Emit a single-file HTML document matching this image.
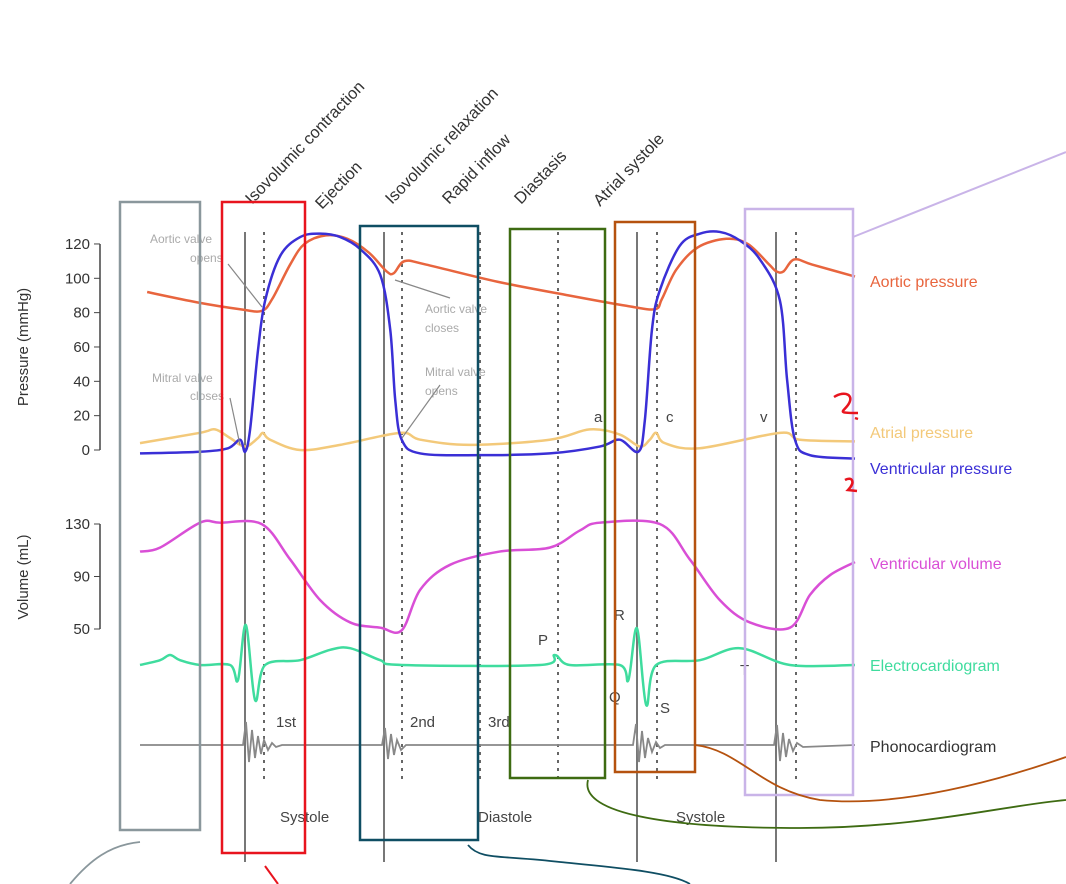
<!DOCTYPE html>
<html><head><meta charset="utf-8"><style>
body{margin:0;background:#fff;width:1066px;height:884px;overflow:hidden;font-family:"Liberation Sans",sans-serif}
svg{position:absolute;left:0;top:0}
</style></head><body>
<svg id="c" width="1066" height="884" font-family="Liberation Sans, sans-serif"></svg>
<script>
// time units 0..100 across the plot, pressure mmHg, volume mL, ecg mV-like
const aorticT=[1,8,14,17,18.5,21,23,26,29,32,34.5,35.5,37,40,50,60,68,72,73,75,78,82,85,88,89,90,91.5,94,100];
const aorticP=[92,86,82,81,88,108,120,125,123,115,104,103,110,108,98,90,84,82,88,105,118,123,120,108,104,104,111,108,101];
const ventT=[0,8.4,12.3,14,14.7,15.4,16.5,17.5,19.6,22.4,25.2,28,30.8,33.6,35,35.7,36.6,39.2,47.6,57.3,64.3,67.1,69.7,70.6,71.6,72.7,75.5,78.3,81.1,83.9,86.7,89.5,90.5,91.6,93.7,100];
const ventP=[-2,-1,1,6,-1,12,58,87,113,124,126,124,117,102,70,29,6,-2,-3,-2,2,6,-1,17,70,93,119,126,127,122,111,87,41,6,-3,-5];
const atrT=[0,8.4,10.5,12.6,14.7,16.5,17.2,18.2,22.4,28,36.4,39.2,46.2,57.3,62.9,67.1,69.9,71.3,72.2,73.4,78.3,89.5,92.3,100];
const atrP=[4,10,12,7,2,7,10,6,0,3,10,6,3,6,12,9,2,6,10,4,1,10,6,5];
const volT=[0,2.8,8.4,11.2,17,21,25.2,29.4,33.6,36.6,39.2,43.4,50.3,57.3,61.5,64.3,72.7,76.9,81.1,85.3,90.9,93.7,96.5,100];
const volV=[109,112,131,131,130,103,72,55,51,49,80,99,109,112,125,131,130,103,72,55,51,76,91,101];
const ecgT=[0,2.8,4.2,5.6,8.4,12.6,13.7,14.8,16.1,17.5,22.4,26.6,29.4,33.6,36.6,55.9,58,60.1,67.1,68.3,69.5,70.8,72.2,78.3,83.9,90.9,100];
const ecgV=[0,0.12,0.25,0.12,0,0,-0.38,1,-0.88,0,0.12,0.38,0.42,0.12,0,0,0.25,0,0,-0.38,0.92,-1,0,0.12,0.42,0,0];
const pTicks=[0,20,40,60,80,100,120];
const vTicks=[50,90,130];
const X=t=>140+t*7.15, YP=p=>450-p*1.717, YV=v=>524-(v-130)*1.3125, YE=e=>665-e*40;
const NS="http://www.w3.org/2000/svg", svg=document.getElementById('c');
function el(tag,a,txt){const e=document.createElementNS(NS,tag);for(const k in a)e.setAttribute(k,a[k]);if(txt!=null)e.textContent=txt;svg.appendChild(e);return e;}
function smooth(xs,ys){let d=`M${xs[0]},${ys[0]}`;for(let i=0;i<xs.length-1;i++){const x0=xs[i-1]??xs[i],y0=ys[i-1]??ys[i],x1=xs[i],y1=ys[i],x2=xs[i+1],y2=ys[i+1],x3=xs[i+2]??x2,y3=ys[i+2]??y2;d+=` C${x1+(x2-x0)/6},${y1+(y2-y0)/6} ${x2-(x3-x1)/6},${y2-(y3-y1)/6} ${x2},${y2}`;}return d;}
// vertical lines
[245,384,637,776].forEach(x=>{const l=el('line',{x1:x,x2:x,y1:232,y2:862,stroke:'#777','stroke-width':2});});
[264,402,480,558,657,796].forEach(x=>{const l=el('line',{x1:x,x2:x,y1:232,y2:782,stroke:'#666','stroke-width':2,'stroke-dasharray':'3,5'});});
// axes
let a=el('path',{d:'M100,244V450M100,524V629',stroke:'#444',fill:'none','stroke-width':1.5});
pTicks.forEach(p=>{el('line',{x1:94,x2:100,y1:YP(p),y2:YP(p),stroke:'#444'});const t=el('text',{x:90,y:YP(p)+5,'text-anchor':'end','font-size':15,fill:'#333'},p);});
vTicks.forEach(v=>{el('line',{x1:94,x2:100,y1:YV(v),y2:YV(v),stroke:'#444'});const t=el('text',{x:90,y:YV(v)+5,'text-anchor':'end','font-size':15,fill:'#333'},v);});
let yt=el('text',{transform:'translate(28,347) rotate(-90)','text-anchor':'middle','font-size':15,fill:'#333'},'Pressure (mmHg)');
yt=el('text',{transform:'translate(28,577) rotate(-90)','text-anchor':'middle','font-size':15,fill:'#333'},'Volume (mL)');
// series
function series(ts,vs,fy,col,name){const p=el('path',{d:smooth(ts.map(X),vs.map(fy)),stroke:col,fill:'none','stroke-width':2.5});}
series(atrT,atrP,YP,'#f3c97a','atrial-pressure-line');
series(aorticT,aorticP,YP,'#e8653e','aortic-pressure-line');
series(ventT,ventP,YP,'#3a2fd6','ventricular-pressure-line');
series(volT,volV,YV,'#d94fd6','ventricular-volume-line');
series(ecgT,ecgV,YE,'#3fdc9e','ecg-line');
// phonocardiogram
const ph='M140,745 L243,745 L246,722 L249,762 L252,730 L255,758 L258,736 L261,754 L264,740 L268,750 L272,743 L276,747 L282,745 L382,745 L385,728 L388,759 L391,734 L394,755 L397,740 L401,750 L406,745 L633,745 L636,724 L639,762 L642,731 L645,758 L648,738 L652,752 L656,742 L660,748 L665,745 L774,745 L777,725 L780,761 L783,733 L786,757 L789,739 L793,751 L797,743 L803,747 L855,745';
let pp=el('path',{d:ph,stroke:'#888',fill:'none','stroke-width':1.8});
// phase labels
[['Isovolumic contraction',252,205],['Ejection',322,210],['Isovolumic relaxation',392,205],['Rapid inflow',449,205],['Diastasis',521,205],['Atrial systole',600,207]].forEach(([s,x,y])=>{const t=el('text',{transform:`translate(${x},${y}) rotate(-46)`,'font-size':16.5,fill:'#333'},s);});
// right labels
[['Aortic pressure',287,'#e8653e','aortic-legend'],['Atrial pressure',438,'#f3c97a','atrial-legend'],['Ventricular pressure',474,'#3a2fd6','ventricular-pressure-legend'],['Ventricular volume',569,'#d94fd6','volume-legend'],['Electrocardiogram',671,'#3fdc9e','ecg-legend'],['Phonocardiogram',752,'#333','phono-legend']].forEach(([s,y,c,n])=>{const t=el('text',{x:870,y:y,'font-size':16,fill:c},s);});
// small gray annotations
[['Aortic valve',150,243],['opens',190,262],['Aortic valve',425,313],['closes',425,332],['Mitral valve',152,382],['closes',190,400],['Mitral valve',425,376],['opens',425,395]].forEach(([s,x,y])=>{const t=el('text',{x:x,y:y,'font-size':12,fill:'#aaa'},s);});
el('path',{d:'M228,264L262,307M395,280L450,298M230,398L240,445M402,438L440,385',stroke:'#888','stroke-width':1.2,fill:'none'});
[['a',594,422],['c',666,422],['v',760,422],['P',538,645],['R',614,620],['Q',609,702],['T',740,675],['S',660,713],['1st',276,727],['2nd',410,727],['3rd',488,727],['Systole',280,822],['Diastole',478,822],['Systole',676,822]].forEach(([s,x,y])=>{const t=el('text',{x:x,y:y,'font-size':15,fill:'#444'},s);});
// annotation boxes
[[120,202,80,628,'#8a979c','gray-box'],[222,202,83,651,'#e8141e','red-box'],[360,226,118,614,'#0f4e63','teal-box'],[510,229,95,549,'#3e6b12','green-box'],[615,222,80,550,'#b5520f','brown-box'],[745,209,108,586,'#c9b4e8','lavender-box']].forEach(([x,y,w,h,c,n])=>{const r=el('rect',{x:x,y:y,width:w,height:h,fill:'none',stroke:c,'stroke-width':2.5});});
// scribbles
el('path',{d:'M853,237L1066,152',stroke:'#c9b4e8','stroke-width':2,fill:'none'});
el('path',{d:'M140,842C110,845 90,860 70,884',stroke:'#8a979c','stroke-width':1.8,fill:'none'});
el('path',{d:'M265,866L278,884',stroke:'#e8141e','stroke-width':2,fill:'none'});
el('path',{d:'M468,845C480,860 500,855 560,862C620,868 670,872 690,884',stroke:'#0f4e63','stroke-width':1.8,fill:'none'});
el('path',{d:'M588,780C580,810 650,828 800,828C920,828 1000,806 1066,800',stroke:'#3e6b12','stroke-width':1.8,fill:'none'});
el('path',{d:'M695,745C740,750 760,790 820,800C900,808 1000,780 1066,757',stroke:'#b5520f','stroke-width':1.8,fill:'none'});
el('path',{d:'M834,397C845,390 855,395 848,405C843,412 836,413 858,413M855,418l3,1M845,480C852,476 856,482 848,490L857,491',stroke:'#e8141e','stroke-width':2.5,fill:'none'});
</script>
</body></html>
